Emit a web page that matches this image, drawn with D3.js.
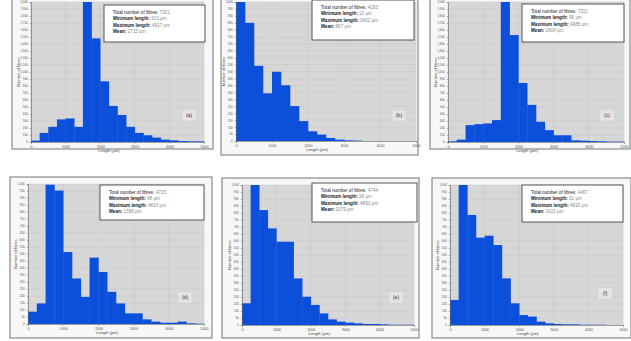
<!DOCTYPE html>
<html><head><meta charset="utf-8">
<script src="https://cdn.jsdelivr.net/npm/d3@7/dist/d3.min.js"></script>
<style>body{margin:0;background:#fff}svg{display:block;font-family:"Liberation Sans",Arial,sans-serif}</style>
</head><body><svg id="c" width="631" height="341"></svg>
<script>
// ---------------- data ----------------
const panelLabels = ["(a)", "(b)", "(c)", "(d)", "(e)", "(f)"];
const binWidth = 250;                       // µm per histogram bin
const xTicks = [0, 1000, 2000, 3000, 4000, 5000];
const countsA = [20, 130, 217, 323, 337, 217, 2000, 1480, 867, 516, 386, 217, 130, 96, 63, 34, 24, 14, 10, 10];
const countsB = [1000, 850, 541, 343, 498, 401, 251, 143, 70, 46, 22, 10, 5, 3, 0, 0, 0, 0, 0, 0];
const countsC = [10, 34, 241, 255, 265, 313, 2000, 1528, 843, 530, 289, 169, 96, 96, 24, 19, 14, 10, 5, 5];
const countsD = [88, 147, 995, 953, 514, 325, 194, 474, 372, 230, 147, 76, 76, 33, 17, 9, 9, 17, 5, 2];
const countsE = [155, 1000, 821, 690, 595, 595, 333, 202, 143, 83, 40, 24, 17, 12, 7, 7, 5, 2, 2, 2];
const countsF = [179, 1000, 786, 624, 638, 571, 333, 155, 71, 60, 24, 12, 7, 5, 5, 2, 2, 2, 0, 0];
const yMax = [2000, 1000, 2000, 1000, 1000, 1000];
const yStep = [100, 50, 100, 50, 50, 50];
const totalFibres = [7151, 4183, 7311, 4715, 4744, 4467];
const minLength = [103, 12, 96, 48, 26, 31];
const maxLength = [4917, 3402, 4985, 4810, 4893, 4620];
const meanLength = [1715, 867, 1804, 1396, 1079, 1022];
const xTitle = "Length (µm)";
const yTitle = "Number of fibres";

// ---------------- layout ----------------
const allCounts = [countsA, countsB, countsC, countsD, countsE, countsF];
const layout = [
  {fx:12, fy:-2, fw:201, fh:151, px:31, py:2,   pw:173, ph:140, lx:104, ly:5,   lw:101, lh:37, tx:182, ty:110},
  {fx:221,fy:-2, fw:197, fh:157, px:236,py:2,   pw:180, ph:139, lx:312, ly:0,   lw:102, lh:40, tx:392, ty:110},
  {fx:430,fy:-2, fw:200, fh:151, px:448,py:2,   pw:176, ph:140, lx:522, ly:4,   lw:102, lh:38, tx:600, ty:110},
  {fx:10, fy:177,fw:202, fh:161, px:28, py:184, pw:176, ph:140, lx:100, ly:185, lw:104, lh:35, tx:178, ty:292},
  {fx:222,fy:178,fw:197, fh:160, px:242,py:185, pw:172, ph:140, lx:312, ly:183, lw:105, lh:39, tx:389, ty:292},
  {fx:432,fy:178,fw:199, fh:160, px:450,py:185, pw:173, ph:140, lx:522, ly:185, lw:101, lh:37, tx:598, ty:288}
];

const svg = d3.select("#c");
svg.append("defs").selectAll("clipPath").data(layout).join("clipPath")
  .attr("id", (d, i) => "clip" + i)
  .append("rect").attr("x", d => d.px).attr("y", d => d.py).attr("width", d => d.pw).attr("height", d => d.ph);

layout.forEach((L, i) => {
  const counts = allCounts[i];
  const g = svg.append("g");
  g.append("rect").attr("x", L.fx).attr("y", L.fy).attr("width", L.fw).attr("height", L.fh)
    .attr("fill", "#f7f7f7").attr("stroke", "#8a8a8a").attr("stroke-width", 1.2);

  const x = d3.scaleLinear().domain([0, binWidth * counts.length]).range([L.px, L.px + L.pw]);
  const y = d3.scaleLinear().domain([0, yMax[i]]).range([L.py + L.ph, L.py]);

  g.append("rect").attr("x", L.px).attr("y", L.py).attr("width", L.pw).attr("height", L.ph).attr("fill", "#d7d7d7");

  const yt = d3.range(0, yMax[i] + 1, yStep[i]);
  g.append("g").selectAll("line").data(yt).join("line")
    .attr("x1", L.px).attr("x2", L.px + L.pw).attr("y1", d => y(d)).attr("y2", d => y(d))
    .attr("stroke", "#c6c6c6").attr("stroke-width", 0.5);
  g.append("g").selectAll("line").data(xTicks).join("line")
    .attr("y1", L.py).attr("y2", L.py + L.ph).attr("x1", d => x(d)).attr("x2", d => x(d))
    .attr("stroke", "#c6c6c6").attr("stroke-width", 0.5);

  g.append("g").attr("clip-path", `url(#clip${i})`).selectAll("rect").data(counts).join("rect")
    .attr("x", (d, k) => x(k * binWidth)).attr("width", x(binWidth) - x(0) + 0.3)
    .attr("y", d => y(d)).attr("height", d => y(0) - y(d))
    .attr("fill", "#0b4fdb");

  const ax = g.append("g").attr("transform", `translate(0,${L.py + L.ph})`)
    .call(d3.axisBottom(x).tickValues(xTicks).tickSize(1.5).tickFormat(d => d.toFixed(0)));
  ax.select(".domain").attr("stroke", "#666").attr("stroke-width", 0.6);
  ax.selectAll("line").attr("stroke", "#666").attr("stroke-width", 0.5);
  ax.selectAll("text").attr("font-size", 3.6).attr("fill", "#555").attr("dy", "0.5em");

  const ay = g.append("g").attr("transform", `translate(${L.px},0)`)
    .call(d3.axisLeft(y).tickValues(yt).tickSize(1.2));
  ay.select(".domain").attr("stroke", "#666").attr("stroke-width", 0.6);
  ay.selectAll("line").attr("stroke", "#666").attr("stroke-width", 0.5);
  ay.selectAll("text").attr("font-size", 2.9).attr("fill", "#555").attr("dx", "0.3em");

  g.append("text").attr("x", L.px + L.pw * 0.45).attr("y", L.py + L.ph + 10)
    .attr("text-anchor", "middle").attr("font-size", 4).attr("fill", "#444").text(xTitle);
  g.append("text").attr("transform", `translate(${L.px - 11},${L.py + L.ph * 0.5}) rotate(-90)`)
    .attr("text-anchor", "middle").attr("font-size", 4).attr("fill", "#444").text(yTitle);

  // info box
  g.append("rect").attr("x", L.lx).attr("y", L.ly).attr("width", L.lw).attr("height", L.lh)
    .attr("fill", "#ffffff").attr("stroke", "#555").attr("stroke-width", 1);
  const lines = [
    ["Total number of fibres: ", totalFibres[i]],
    ["Minimum length: ", minLength[i] + " µm"],
    ["Maximum length: ", maxLength[i] + " µm"],
    ["Mean: ", meanLength[i] + " µm"]
  ];
  const lg = g.append("g");
  lines.forEach((ln, k) => {
    const t = lg.append("text").attr("x", L.lx + 9).attr("y", L.ly + 9 + k * 6.3).attr("font-size", 4.6);
    t.append("tspan").attr("fill", "#222").attr("font-weight", k === 0 ? "normal" : "bold").text(ln[0]);
    t.append("tspan").attr("fill", "#888").text(ln[1]);
  });

  // panel tag
  g.append("rect").attr("x", L.tx).attr("y", L.ty).attr("width", 14).attr("height", 11)
    .attr("fill", "#e4e4e4").attr("stroke", "#cfcfcf").attr("stroke-width", 0.4);
  g.append("text").attr("x", L.tx + 7).attr("y", L.ty + 7.3).attr("text-anchor", "middle")
    .attr("font-size", 5).attr("fill", "#333").text(panelLabels[i]);
});
</script></body></html>
